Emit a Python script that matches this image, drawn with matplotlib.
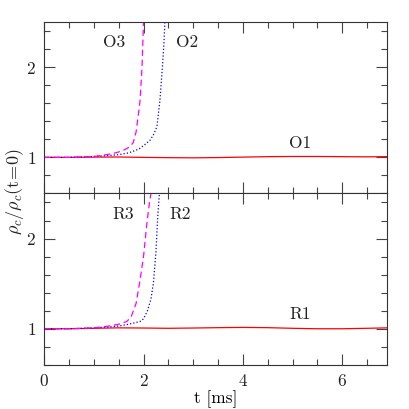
import numpy as np
import matplotlib.pyplot as plt
from matplotlib.ticker import MultipleLocator

plt.rcParams['font.family'] = 'serif'
plt.rcParams['font.serif'] = ['cmr10', 'DejaVu Serif']
plt.rcParams['mathtext.fontset'] = 'cm'
plt.rcParams['axes.formatter.use_mathtext'] = True
plt.rcParams['font.size'] = 12.5
plt.rcParams['text.color'] = '#222222'
plt.rcParams['xtick.color'] = '#222222'
plt.rcParams['ytick.color'] = '#222222'

# top panel (O models)
t_o1 = [0.0, 0.5, 1.0, 1.5, 2.0, 2.5, 3.0, 3.5, 4.0, 4.5, 5.0, 5.5, 6.0, 6.5, 6.9]
y_o1 = [1.0, 1.0, 1.003, 1.004, 1.0, 0.997, 0.995, 0.998, 1.003, 1.008, 1.01, 1.01, 1.008, 1.006, 1.008]
t_o2 = [0.0, 0.5, 1.0, 1.3, 1.5, 1.7, 1.8, 1.9, 2.0, 2.13, 2.2, 2.27, 2.33, 2.38, 2.41, 2.43]
y_o2 = [1.0, 1.0, 1.01, 1.02, 1.03, 1.05, 1.07, 1.09, 1.13, 1.19, 1.25, 1.34, 1.63, 2.0, 2.25, 2.5]
t_o3 = [0.0, 0.5, 1.0, 1.2, 1.4, 1.5, 1.6, 1.7, 1.79, 1.85, 1.9, 1.93, 1.97, 2.0]
y_o3 = [1.0, 1.0, 1.01, 1.025, 1.045, 1.06, 1.08, 1.11, 1.16, 1.28, 1.49, 1.63, 2.0, 2.5]

# bottom panel (R models)
t_r1 = [0.0, 0.5, 1.0, 1.5, 2.0, 2.5, 3.0, 3.5, 4.0, 4.5, 5.0, 5.5, 6.0, 6.5, 6.9]
y_r1 = [1.0, 1.0, 1.005, 1.01, 1.008, 1.005, 1.008, 1.012, 1.015, 1.012, 1.005, 1.0, 1.0, 1.005, 1.01]
t_r2 = [0.0, 0.5, 1.0, 1.3, 1.5, 1.7, 1.85, 1.93, 2.0, 2.08, 2.15, 2.2, 2.25, 2.28, 2.3, 2.32]
y_r2 = [1.0, 1.0, 1.01, 1.02, 1.03, 1.05, 1.07, 1.08, 1.11, 1.2, 1.33, 1.51, 1.85, 2.18, 2.35, 2.5]
t_r3 = [0.0, 0.5, 1.0, 1.3, 1.5, 1.66, 1.75, 1.85, 1.93, 2.0, 2.07, 2.12, 2.15]
y_r3 = [1.0, 1.0, 1.01, 1.03, 1.05, 1.08, 1.13, 1.28, 1.54, 1.8, 2.18, 2.4, 2.5]

fig, (ax1, ax2) = plt.subplots(2, 1, sharex=True, figsize=(4.09, 4.09), dpi=100)
fig.subplots_adjust(left=0.108, right=0.946, top=0.946, bottom=0.108, hspace=0)

ax1.plot(t_o1, y_o1, color='red', lw=0.9)
ax1.plot(t_o2, y_o2, color='blue', lw=0.9, ls=':')
ax1.plot(t_o3, y_o3, color='magenta', lw=0.9, ls=(0, (5, 3)))
ax1.text(1.4, 2.27, 'O3', ha='center', va='center')
ax1.text(2.88, 2.27, 'O2', ha='center', va='center')
ax1.text(5.15, 1.16, 'O1', ha='center', va='center')

ax2.plot(t_r1, y_r1, color='red', lw=0.9)
ax2.plot(t_r2, y_r2, color='blue', lw=0.9, ls=':')
ax2.plot(t_r3, y_r3, color='magenta', lw=0.9, ls=(0, (5, 3)))
ax2.text(1.6, 2.27, 'R3', ha='center', va='center')
ax2.text(2.74, 2.27, 'R2', ha='center', va='center')
ax2.text(5.15, 1.16, 'R1', ha='center', va='center')

for ax in (ax1, ax2):
    ax.set_xlim(0, 6.9)
    ax.set_ylim(0.6, 2.5)
    ax.xaxis.set_major_locator(MultipleLocator(2))
    ax.xaxis.set_minor_locator(MultipleLocator(0.5))
    ax.yaxis.set_major_locator(MultipleLocator(1))
    ax.yaxis.set_minor_locator(MultipleLocator(0.2))
    ax.tick_params(which='both', direction='in', top=True, right=True, color='#444444')
    ax.tick_params(which='major', length=8, width=0.8, pad=6)
    ax.tick_params(which='minor', length=4, width=0.8)
    for s in ax.spines.values():
        s.set_color('#333333')

ax2.set_xlabel('t [ms]', labelpad=1)
fig.text(0.035, 0.53, r'$\rho_c/\rho_c(\mathrm{t\!=\!0})$', rotation=90, ha='center', va='center', fontsize=13)

fig.savefig('out.png', dpi=100)
